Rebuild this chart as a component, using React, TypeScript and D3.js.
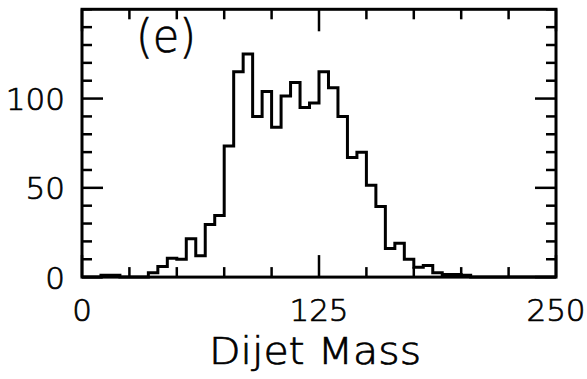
import React from "react";
import * as d3 from "d3";

const binEdges: number[] = d3.range(0, 255, 5);
const counts: number[] = [
  0, 0, 1, 1, 0, 0, 0, 2.5, 6, 10.5,
  10, 21.5, 12, 29.5, 34.5, 73.5, 115, 125, 90, 104,
  84, 101.5, 109, 95, 97.5, 115, 106, 90, 67, 70,
  51.5, 39.5, 16, 19, 10, 5.5, 6.5, 2.5, 1.5, 1.5,
  1, 0, 0, 0, 0, 0, 0, 0, 0, 0,
];
const xTickLabels: number[] = [0, 125, 250];
const yTickLabels: number[] = [0, 50, 100];
const xMinorTicks: number[] = d3.range(0, 251, 25);
const yMinorTicks: number[] = d3.range(0, 151, 10);
const panelLabel = "(e)";
const xTitle = "Dijet Mass";

const W = 587;
const H = 379;
const L = 82;
const R = 556;
const T = 9.3;
const B = 277.1;

export default function App() {
  const x = d3.scaleLinear().domain([0, 250]).range([L, R]);
  const y = d3.scaleLinear().domain([0, 150]).range([B, T]);

  const pts: [number, number][] = counts.map((c, i) => [binEdges[i], c]);
  pts.push([binEdges[counts.length], counts[counts.length - 1]]);
  const line = d3
    .line<[number, number]>()
    .x((d) => x(d[0]))
    .y((d) => y(d[1]))
    .curve(d3.curveStepAfter);

  const font = "'DejaVu Sans', 'Liberation Sans', sans-serif";
  const majorLen = 21;
  const minorLen = 10;
  const txt = { fontFamily: font, fontWeight: 200, fill: "#000", stroke: "#000", strokeWidth: 0.7 };

  return (
    <svg
      width={W}
      height={H}
      style={{ position: "absolute", left: 0, top: 0, background: "#fff" }}
    >
      <rect x={0} y={0} width={W} height={H} fill="#fff" />
      <path d={line(pts) || ""} fill="none" stroke="#000" strokeWidth={3} strokeLinejoin="miter" />
      {xMinorTicks.map((t) => {
        const len = xTickLabels.includes(t) ? majorLen + 1 : minorLen;
        return (
          <g key={"xt" + t}>
            <line x1={x(t)} x2={x(t)} y1={B} y2={B - len} stroke="#000" strokeWidth={2.5} />
            <line x1={x(t)} x2={x(t)} y1={T} y2={T + len} stroke="#000" strokeWidth={2.5} />
          </g>
        );
      })}
      {yMinorTicks.map((t) => {
        const len = yTickLabels.includes(t) ? majorLen : minorLen;
        return (
          <g key={"yt" + t}>
            <line x1={L} x2={L + len} y1={y(t)} y2={y(t)} stroke="#000" strokeWidth={2.5} />
            <line x1={R} x2={R - len} y1={y(t)} y2={y(t)} stroke="#000" strokeWidth={2.5} />
          </g>
        );
      })}
      <rect x={L} y={T} width={R - L} height={B - T} fill="none" stroke="#000" strokeWidth={3} />
      {xTickLabels.map((t) => (
        <text key={"xl" + t} x={x(t)} y={321} textAnchor="middle" fontSize={31} {...txt}>
          {t}
        </text>
      ))}
      {yTickLabels.map((t) => (
        <text key={"yl" + t} x={65} y={y(t) + 11.4} textAnchor="end" fontSize={31} {...txt}>
          {t}
        </text>
      ))}
      <text
        x={315}
        y={364.3}
        textAnchor="middle"
        fontSize={37}
        textLength={212}
        lengthAdjust="spacingAndGlyphs"
        {...txt}
      >
        {xTitle}
      </text>
      <text
        x={136}
        y={52}
        fontSize={47}
        textLength={60}
        lengthAdjust="spacingAndGlyphs"
        {...txt}
      >
        {panelLabel}
      </text>
    </svg>
  );
}
